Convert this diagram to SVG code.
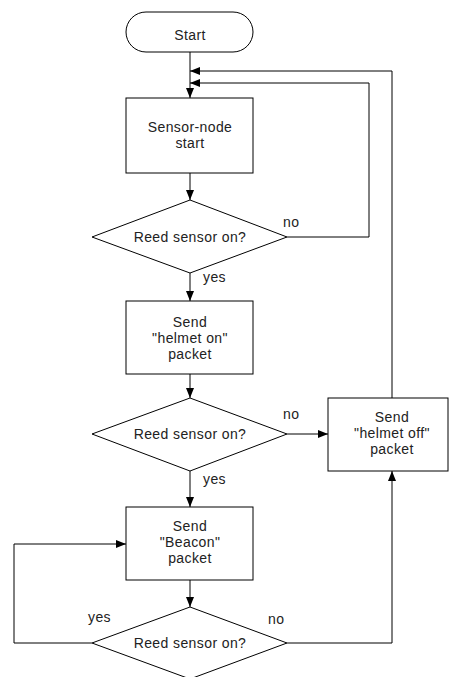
<svg xmlns="http://www.w3.org/2000/svg" width="449" height="677" viewBox="0 0 449 677">
<style>
.s{fill:#fff;stroke:#000;stroke-width:1}
.c{fill:none;stroke:#000;stroke-width:1}
text{font-family:"Liberation Sans",Arial,sans-serif;font-size:14px;letter-spacing:0.4px;fill:#222;text-anchor:middle}
.l{text-anchor:start}
</style>
<defs>
<marker id="a" markerWidth="10" markerHeight="8" refX="10" refY="4" orient="auto" markerUnits="userSpaceOnUse">
<path d="M0,0 L10,4 L0,8 Z" fill="#000"/>
</marker>
</defs>
<rect width="449" height="677" fill="#fff"/>
<g id="connectors">
<path class="c" d="M190,52 V98" marker-end="url(#a)"/>
<path class="c" d="M392,398 V71 H190" marker-end="url(#a)"/>
<path class="c" d="M287,237 H369 V83 H190" marker-end="url(#a)"/>
<path class="c" d="M190,173 V200" marker-end="url(#a)"/>
<path class="c" d="M190,273 V301" marker-end="url(#a)"/>
<path class="c" d="M190,374 V398" marker-end="url(#a)"/>
<path class="c" d="M287,434 H328" marker-end="url(#a)"/>
<path class="c" d="M190,471 V507" marker-end="url(#a)"/>
<path class="c" d="M190,580 V607" marker-end="url(#a)"/>
<path class="c" d="M92,643 H14 V544 H126" marker-end="url(#a)"/>
<path class="c" d="M287,643 H392 V471" marker-end="url(#a)"/>
<text class="l" x="283" y="227">no</text>
<text class="l" x="203" y="282">yes</text>
<text class="l" x="283" y="419">no</text>
<text class="l" x="203" y="484">yes</text>
<text class="l" x="88" y="622">yes</text>
<text class="l" x="268" y="624">no</text>
</g>
<g id="start">
<rect class="s" x="126" y="12" width="127" height="40" rx="20" ry="20"/>
<text x="190" y="40">Start</text>
</g>
<g id="sensor-node">
<rect class="s" x="126" y="98" width="127" height="75"/>
<text x="190" y="132">Sensor-node</text>
<text x="190" y="148">start</text>
</g>
<g id="decision1">
<polygon class="s" points="190,200 287,237 190,273 92,237"/>
<text x="190" y="242">Reed sensor on?</text>
</g>
<g id="helmet-on">
<rect class="s" x="126" y="301" width="127" height="73"/>
<text x="190" y="327">Send</text>
<text x="190" y="343">"helmet on"</text>
<text x="190" y="359">packet</text>
</g>
<g id="decision2">
<polygon class="s" points="190,398 287,434 190,471 92,434"/>
<text x="190" y="439">Reed sensor on?</text>
</g>
<g id="helmet-off">
<rect class="s" x="328" y="398" width="120" height="73"/>
<text x="392" y="422">Send</text>
<text x="392" y="438">"helmet off"</text>
<text x="392" y="454">packet</text>
</g>
<g id="beacon">
<rect class="s" x="126" y="507" width="127" height="73"/>
<text x="190" y="531">Send</text>
<text x="190" y="547">"Beacon"</text>
<text x="190" y="563">packet</text>
</g>
<g id="decision3">
<polygon class="s" points="190,607 287,643 190,679 92,643"/>
<text x="190" y="648">Reed sensor on?</text>
</g>
</svg>
